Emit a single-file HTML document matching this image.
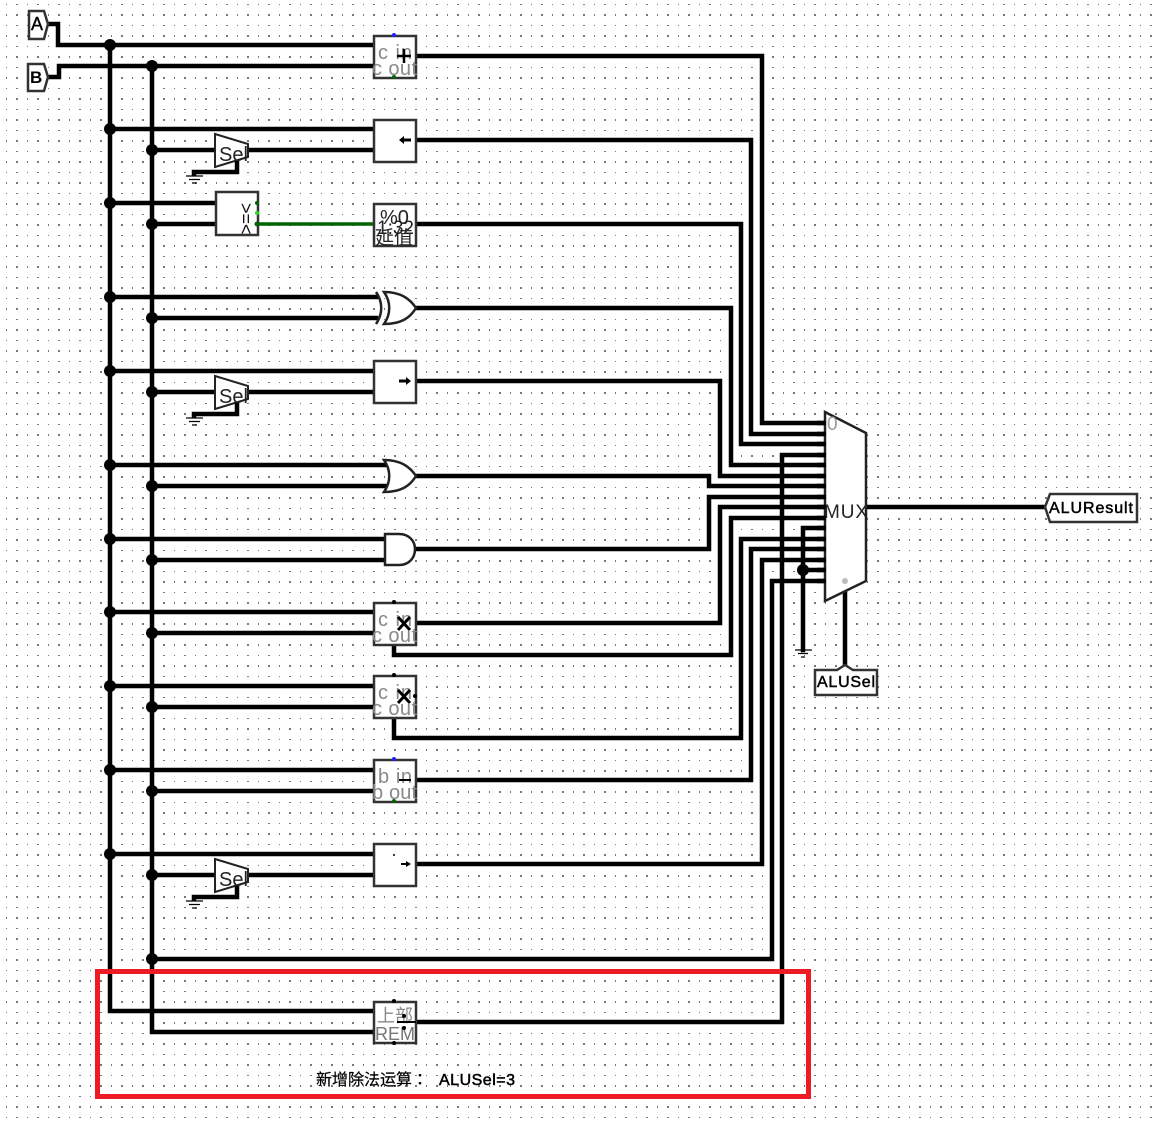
<!DOCTYPE html>
<html><head><meta charset="utf-8"><style>
html,body{margin:0;padding:0;background:#fff;width:1160px;height:1124px;overflow:hidden}
svg{display:block}
text{font-family:"Liberation Sans","Noto Sans CJK SC",sans-serif}
.w{fill:none;stroke:#000;stroke-width:4.5;stroke-linejoin:miter;stroke-linecap:square}
.b{fill:#fff;stroke:#333;stroke-width:2.5}
.g{fill:#888;font-size:20px}
.k{fill:#111}
</style></head><body>
<svg width="1160" height="1124" viewBox="0 0 1160 1124" xmlns="http://www.w3.org/2000/svg">
<defs>
<pattern id="d" x="6" y="4" width="21" height="21" patternUnits="userSpaceOnUse">
<rect x="0" y="0" width="1" height="1" fill="#777"/>
<rect x="10" y="0" width="2" height="1" fill="#777"/>
<rect x="0" y="10" width="1" height="2" fill="#777"/>
<rect x="10" y="10" width="2" height="2" fill="#777"/>
</pattern>
</defs>
<rect width="1160" height="1124" fill="#fff"/>
<rect width="1160" height="1124" fill="url(#d)"/>

<!-- wires -->
<path class="w" d="M47 24H58V45H373M47 77H59V66H373"/>
<path class="w" d="M110 45V1011H373M152 66V1032H373"/>
<path class="w" d="M110 129H373M152 150H215M248 150H373M110 203H215M152 224H215"/>
<path class="w" d="M110 297H376M152 318H376M110 371H373M152 392H215M248 392H373"/>
<path class="w" d="M110 465H386M152 486H386M110 539H385M152 560H385"/>
<path class="w" d="M110 612H373M152 633H373M110 686H373M152 707H373M110 770H373M152 791H373"/>
<path class="w" d="M110 854H373M152 875H215M248 875H373"/>
<path d="M258 224H373" stroke="#006400" stroke-width="3.500" fill="none"/>

<path class="w" d="M416 56H762V423H826"/>
<path class="w" d="M416 140H751V434H826"/>
<path class="w" d="M416 224H741V444H826"/>
<path class="w" d="M416 308H731V465H826"/>
<path class="w" d="M416 381H720V476H826"/>
<path class="w" d="M416 476H709V486H826"/>
<path class="w" d="M416 549H709V497H826"/>
<path class="w" d="M416 623H720V507H826"/>
<path class="w" d="M394 645V655H731V518H826"/>
<path class="w" d="M394 718V738H741V539H826"/>
<path class="w" d="M416 780H751V549H826"/>
<path class="w" d="M416 864H762V560H826"/>
<path class="w" d="M152 959H772V581H826"/>
<path class="w" d="M416 1022H782V455H826"/>
<path class="w" d="M803 650V528H826M803 570H826"/>
<path class="w" d="M866 507H1045M845 592V665"/>

<!-- junctions -->
<g fill="#000">
<circle cx="110" cy="45" r="6"/><circle cx="152" cy="66" r="6"/>
<circle cx="110" cy="129" r="6"/><circle cx="152" cy="150" r="6"/>
<circle cx="110" cy="203" r="6"/><circle cx="152" cy="224" r="6"/>
<circle cx="110" cy="297" r="6"/><circle cx="152" cy="318" r="6"/>
<circle cx="110" cy="371" r="6"/><circle cx="152" cy="392" r="6"/>
<circle cx="110" cy="465" r="6"/><circle cx="152" cy="486" r="6"/>
<circle cx="110" cy="539" r="6"/><circle cx="152" cy="560" r="6"/>
<circle cx="110" cy="612" r="6"/><circle cx="152" cy="633" r="6"/>
<circle cx="110" cy="686" r="6"/><circle cx="152" cy="707" r="6"/>
<circle cx="110" cy="770" r="6"/><circle cx="152" cy="791" r="6"/>
<circle cx="110" cy="854" r="6"/><circle cx="152" cy="875" r="6"/>
<circle cx="152" cy="959" r="6"/><circle cx="803" cy="570" r="6"/>
</g>

<!-- input pins -->
<path d="M29 11H44L48 24L44 39H29Z" fill="#fff" stroke="#333" stroke-width="2.500"/>
<text x="31" y="30" font-size="18" fill="#000" stroke="#000" stroke-width="0.400">A</text>
<path d="M28 64H44L48 77L44 91H28Z" fill="#fff" stroke="#333" stroke-width="2.500"/>
<text x="30" y="83" font-size="17" font-weight="bold" fill="#000">B</text>

<!-- adder -->
<rect class="b" x="374" y="36" width="42" height="42"/>
<text class="g" x="378" y="59" textLength="34">c in</text>
<text class="g" x="372" y="75" textLength="45">c out</text>
<path d="M397 56H411M404 49V63" stroke="#000" stroke-width="2.500"/>
<circle cx="394" cy="35" r="2" fill="#22f"/><circle cx="394" cy="77" r="2" fill="#060"/>

<!-- shift left -->
<rect class="b" x="374" y="120" width="42" height="42"/>
<path d="M403 140H411" stroke="#000" stroke-width="3"/><path d="M399 140L404 136V144Z" fill="#000"/>

<!-- sel 1 -->
<path d="M215 134L248 144V157L215 167Z" fill="#fff" stroke="#222" stroke-width="2"/>
<text x="219" y="161" font-size="20" fill="#222">Sel</text>
<path d="M237 161V172H194V176" fill="none" stroke="#000" stroke-width="4.500"/>
<path d="M186 176H203M189 179.500H200M192 183H197" stroke="#000" stroke-width="1.200"/>

<!-- comparator -->
<rect class="b" x="216" y="192" width="42" height="43"/>
<text transform="translate(240,203) rotate(90)" font-size="18" fill="#111">&gt;=&lt;</text>
<circle cx="257" cy="203" r="2" fill="#060"/><circle cx="257" cy="213" r="2" fill="#2d2"/><circle cx="257" cy="224" r="2.500" fill="#060"/>

<!-- div/bits -->
<rect class="b" x="374" y="204" width="42" height="42"/>
<text x="380" y="224" font-size="20" fill="#222">%0</text>
<text x="377" y="234" font-size="19" fill="#222">1:32</text>
<text x="375" y="244" font-size="19" fill="#222" font-family="'Noto Sans CJK SC',sans-serif">延值</text>

<!-- xor -->
<path d="M384 292C401 292 410 299 416 308C410 318 401 324 384 324C391 314 391 302 384 292Z" fill="#fff" stroke="#222" stroke-width="2.500"/>
<path d="M376 292C383 302 383 314 376 324" fill="none" stroke="#222" stroke-width="2.500"/>

<!-- shift right -->
<rect class="b" x="374" y="361" width="42" height="42"/>
<path d="M399 381H408" stroke="#000" stroke-width="3"/><path d="M411 381L406 377V385Z" fill="#000"/>
<path d="M215 376L248 386V399L215 409Z" fill="#fff" stroke="#222" stroke-width="2"/>
<text x="219" y="403" font-size="20" fill="#222">Sel</text>
<path d="M237 403V414H194V418" fill="none" stroke="#000" stroke-width="4.500"/>
<path d="M186 418H203M189 421.500H200M192 425H197" stroke="#000" stroke-width="1.200"/>

<!-- or -->
<path d="M384 460C401 460 410 467 416 476C410 486 401 492 384 492C391 482 391 470 384 460Z" fill="#fff" stroke="#222" stroke-width="2.500"/>
<!-- and -->
<path d="M385 534H399C409 534 415 541 415 549C415 558 409 565 399 565H385Z" fill="#fff" stroke="#222" stroke-width="2.500"/>

<!-- multipliers -->
<rect class="b" x="374" y="603" width="42" height="42"/>
<text class="g" x="378" y="626" textLength="34">c in</text>
<text class="g" x="372" y="642" textLength="45">c out</text>
<path d="M398 617L410 630M410 617L398 630" stroke="#000" stroke-width="3"/>
<circle cx="394" cy="602" r="2" fill="#000"/>

<rect class="b" x="374" y="676" width="42" height="42"/>
<text class="g" x="378" y="699" textLength="34">c in</text>
<text class="g" x="372" y="715" textLength="45">c out</text>
<path d="M398 690L410 703M410 690L398 703" stroke="#000" stroke-width="3"/>
<circle cx="394" cy="675" r="2" fill="#000"/><circle cx="415" cy="696" r="2" fill="#000"/>

<!-- subtractor -->
<rect class="b" x="374" y="760" width="42" height="42"/>
<text class="g" x="378" y="783" textLength="34">b in</text>
<text class="g" x="372" y="799" textLength="45">b out</text>
<path d="M399 780H411" stroke="#000" stroke-width="2"/>
<circle cx="394" cy="759" r="2" fill="#22f"/><circle cx="394" cy="801" r="2" fill="#060"/>

<!-- shift arith -->
<rect class="b" x="374" y="844" width="42" height="42"/>
<path d="M401 864H408" stroke="#000" stroke-width="2"/><path d="M411 864L406 861V867Z" fill="#000"/>
<circle cx="394" cy="855" r="1" fill="#000"/>
<path d="M215 859L248 869V882L215 892Z" fill="#fff" stroke="#222" stroke-width="2"/>
<text x="219" y="886" font-size="20" fill="#222">Sel</text>
<path d="M237 886V897H194V901" fill="none" stroke="#000" stroke-width="4.500"/>
<path d="M186 901H203M189 904.500H200M192 908H197" stroke="#000" stroke-width="1.200"/>

<!-- REM -->
<rect class="b" x="374" y="1002" width="42" height="41"/>
<text x="377" y="1022" font-size="18" fill="#888" font-family="'Noto Sans CJK SC',sans-serif">上部</text>
<text x="375" y="1040" font-size="18" fill="#777" textLength="40">REM</text>
<path d="M397 1022H416" stroke="#000" stroke-width="2"/>
<circle cx="404" cy="1016" r="2" fill="#000"/><circle cx="404" cy="1028" r="2" fill="#000"/>
<circle cx="394" cy="1001" r="2" fill="#000"/><circle cx="394" cy="1043" r="2" fill="#000"/>

<!-- mux -->
<path d="M825 412L866 433V581L825 601Z" fill="#fff" stroke="#222" stroke-width="2.500"/>
<path class="w" style="stroke-linecap:butt" d="M817 423H826M817 434H826M817 444H826M817 455H826M817 465H826M817 476H826M817 486H826M817 497H826M817 507H826M817 518H826M817 528H826M817 539H826M817 549H826M817 560H826M817 570H826M817 581H826"/>
<text x="827" y="430" font-size="19" fill="#999">0</text>
<text x="824" y="518" font-size="19" fill="#222" textLength="44">MUX</text>
<circle cx="845" cy="581" r="3" fill="#bbb"/>

<!-- ground -->
<path d="M795 650H812M798 653.500H808M801 657H805" stroke="#000" stroke-width="1.200"/>

<!-- output pins -->
<path d="M815 670H837L845 665L853 670H877V695H815Z" fill="#fff" stroke="#333" stroke-width="2.500"/>
<text x="817" y="687" font-size="16" fill="#000" stroke="#000" stroke-width="0.500" textLength="58">ALUSel</text>
<path d="M1050 494H1137V522H1050L1045 507Z" fill="#fff" stroke="#333" stroke-width="2.500"/>
<text x="1049" y="513" font-size="16" fill="#000" stroke="#000" stroke-width="0.500" textLength="84">ALUResult</text>

<!-- red rect -->
<rect x="97.500" y="971.500" width="711" height="125" fill="none" stroke="#ed1c24" stroke-width="5"/>
<text x="316" y="1085" font-size="16" fill="#000" stroke="#000" stroke-width="0.200">新增除法运算<tspan font-family="'Noto Sans CJK TC',sans-serif">：</tspan></text>
<text x="439" y="1085" font-size="16" fill="#000" stroke="#000" stroke-width="0.500" textLength="76">ALUSel=3</text>
</svg>
</body></html>
